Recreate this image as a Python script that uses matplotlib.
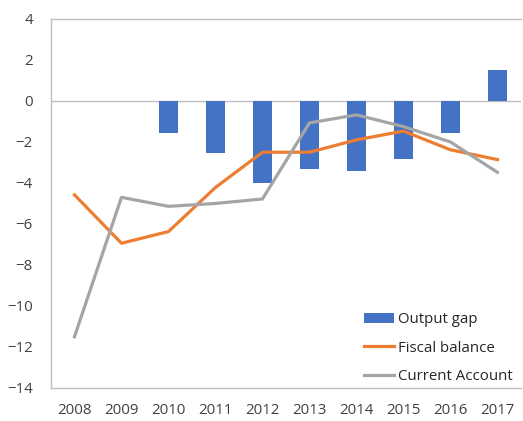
import matplotlib
matplotlib.use("Agg")
import matplotlib.pyplot as plt
import numpy as np

plt.rcParams['font.family'] = ['Open Sans', 'DejaVu Sans']

# data
years = ['2008', '2009', '2010', '2011', '2012', '2013', '2014', '2015', '2016', '2017']
output_gap = [0, 0, -1.55, -2.53, -4.0, -3.31, -3.43, -2.81, -1.55, 1.52]
fiscal_balance = [-4.58, -6.94, -6.37, -4.22, -2.5, -2.5, -1.9, -1.47, -2.38, -2.86]
current_account = [-11.5, -4.7, -5.14, -5.0, -4.78, -1.07, -0.68, -1.25, -2.0, -3.48]
y_ticks = [4, 2, 0, -2, -4, -6, -8, -10, -12, -14]

fig = plt.figure(figsize=(5.23, 4.21), dpi=100)
ax = fig.add_axes([0.0975, 0.0784, 0.8985, 0.8766])

x = np.arange(len(years))
bars = ax.bar(x, output_gap, width=0.39, color='#4472C4', label='Output gap', zorder=2)
l1, = ax.plot(x, fiscal_balance, color='#ED7D31', lw=2.3, label='Fiscal balance', zorder=3)
l2, = ax.plot(x, current_account, color='#A5A5A5', lw=2.3, label='Current Account', zorder=3)
ax.axhline(0, color='#BFBFBF', lw=1, zorder=1)

ax.set_xlim(-0.5, len(years) - 0.5)
ax.set_ylim(-14, 4)
ax.set_xticks(x)
ax.set_xticklabels(years)
ax.set_yticks(y_ticks)
ax.tick_params(length=0, labelsize=10.8, colors='#404040')
ax.tick_params(axis='y', pad=13)
ax.tick_params(axis='x', pad=11)

for s in ['left', 'bottom', 'top']:
    ax.spines[s].set_color('#BFBFBF')
    ax.spines[s].set_linewidth(1)
ax.spines['right'].set_visible(False)

leg = ax.legend([bars, l1, l2], ['Output gap', 'Fiscal balance', 'Current Account'],
                loc='lower right', bbox_to_anchor=(1.0, -0.012), frameon=False,
                fontsize=10.8, handlelength=2.0, handletextpad=0.25, labelspacing=0.9,
                borderaxespad=0.15)
for t in leg.get_texts():
    t.set_color('#262626')

fig.savefig('out.png', dpi=100)
